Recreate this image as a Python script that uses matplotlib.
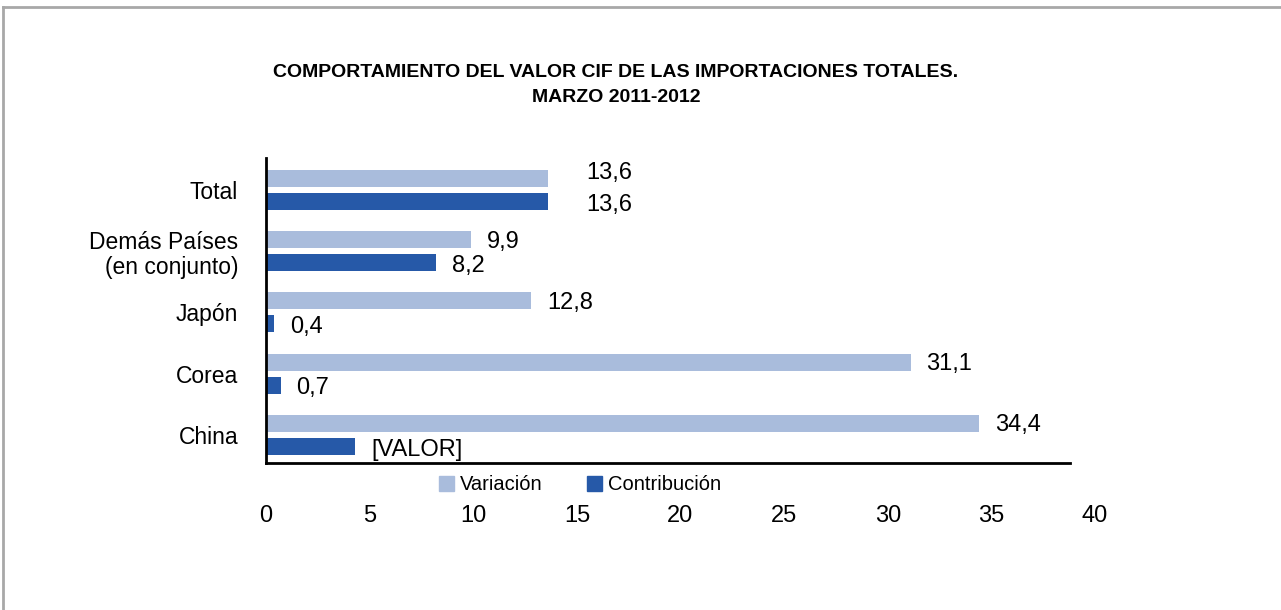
import matplotlib.pyplot as plt
import numpy as np
from matplotlib.lines import Line2D
from matplotlib.patches import Patch

# data (top to bottom as in the chart)
categorias = ["Total", "Demás Países\n(en conjunto)", "Japón", "Corea", "China"]
variacion = [13.6, 9.9, 12.8, 31.1, 34.4]
contribucion = [13.6, 8.2, 0.4, 0.7, 4.3]
etiq_variacion = ["13,6", "9,9", "12,8", "31,1", "34,4"]
etiq_contribucion = ["13,6", "8,2", "0,4", "0,7", "[VALOR]"]
ticks_x = [0, 5, 10, 15, 20, 25, 30, 35, 40]

color_var = "#A9BCDC"
color_con = "#2659A8"
narrow = ["Liberation Sans Narrow", "Liberation Sans", "DejaVu Sans"]
regular = ["Liberation Sans", "DejaVu Sans"]

fig = plt.figure(figsize=(12.81, 6.10), dpi=100)
ax = fig.add_axes([266 / 1281, 147 / 610, 829 / 1281, 305 / 610])

# border lines of the original frame
fig.add_artist(Line2D([3 / 1281, 1], [1 - 7 / 610, 1 - 7 / 610], color="#A8A8A8", lw=2))
fig.add_artist(Line2D([3 / 1281, 3 / 1281], [0, 1 - 7 / 610], color="#A8A8A8", lw=2))

y = np.arange(len(categorias))[::-1].astype(float)
h = 0.278
off = 0.188
ax.barh(y + off, variacion, height=h, color=color_var)
ax.barh(y - off, contribucion, height=h, color=color_con)

for yi, v, c, lv, lc in zip(y, variacion, contribucion, etiq_variacion, etiq_contribucion):
    if lv == lc:
        dx, dv, dc = 38, 5, -4
    else:
        dx, dv, dc = 16, -2, -3
    ax.annotate(lv, (v, yi + off), xytext=(dx, dv), textcoords="offset pixels",
                ha="left", va="center", fontsize=17, family=regular)
    ax.annotate(lc, (c, yi - off), xytext=(dx, dc), textcoords="offset pixels",
                ha="left", va="center", fontsize=17, family=regular)

ax.set_xlim(0, 40)
ax.set_ylim(-0.457, 4.52)
ax.set_xticks(ticks_x)
ax.set_xticklabels([str(t) for t in ticks_x], fontsize=17, family=regular)
ax.set_yticks(y)
ax.set_yticklabels(categorias, fontsize=16.5, family=narrow, ha="right",
                   multialignment="right", linespacing=1.15)
ax.tick_params(axis="x", length=0, pad=30)
ax.tick_params(axis="y", length=0, pad=20)

for s in ["top", "right"]:
    ax.spines[s].set_visible(False)
ax.spines["left"].set_linewidth(2)
ax.spines["bottom"].set_linewidth(2)
ax.spines["bottom"].set_bounds(0, 38.8)

fig.text(616 / 1281, 1 - 85 / 610,
         "COMPORTAMIENTO DEL VALOR CIF DE LAS IMPORTACIONES TOTALES.\nMARZO 2011-2012",
         ha="center", va="center", fontsize=14, fontweight="bold", family=narrow,
         linespacing=1.6)

handles = [Patch(color=color_var, label="Variación"),
           Patch(color=color_con, label="Contribución")]
fig.legend(handles=handles, loc="center", bbox_to_anchor=(580 / 1281, 1 - 485 / 610),
           ncol=2, frameon=False, prop={"family": narrow, "size": 14.5},
           handlelength=0.75, handleheight=0.75, handletextpad=0.3, columnspacing=2.2)

fig.savefig("out.png", dpi=100)
